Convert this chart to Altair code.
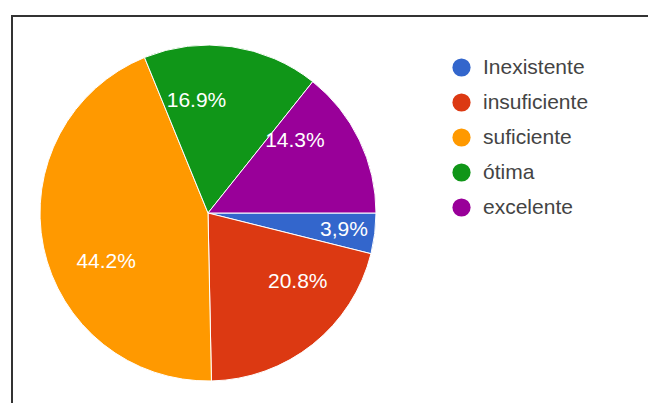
import math
import altair as alt
import pandas as pd

categories = ["Inexistente", "insuficiente", "suficiente", "ótima", "excelente"]
values = [3.9, 20.8, 44.2, 16.9, 14.3]
labels = ["3,9%", "20.8%", "44.2%", "16.9%", "14.3%"]
colors = ["#3366cc", "#dc3912", "#ff9900", "#109618", "#990099"]

df = pd.DataFrame({
    "cat": categories,
    "val": values,
    "label": labels,
    "ord": list(range(len(categories))),
})

CX, CY, R = 196, 197, 168
theta_scale = alt.Scale(range=[math.pi / 2, math.pi / 2 + 2 * math.pi])

base = alt.Chart(df).encode(
    theta=alt.Theta("val:Q", stack=True, scale=theta_scale),
    order=alt.Order("ord:Q"),
)

pie = base.mark_arc(radius=R, stroke="white", strokeWidth=1).encode(
    x=alt.value(CX),
    y=alt.value(CY),
    color=alt.Color(
        "cat:N",
        scale=alt.Scale(domain=categories, range=colors),
        sort=categories,
        legend=alt.Legend(
            title=None,
            orient="none",
            legendX=439,
            legendY=41,
            symbolType="circle",
            symbolSize=330,
            symbolStrokeWidth=0,
            labelFontSize=21,
            labelFont="Liberation Sans",
            labelColor="#444444",
            rowPadding=13,
            labelOffset=11,
        ),
    ),
)

text_big = base.mark_text(
    radius=113, fontSize=21, font="Liberation Sans", color="white"
).encode(
    x=alt.value(CX),
    y=alt.value(CY),
    text="label:N",
).transform_filter("datum.val >= 5")

text_small = base.mark_text(
    radius=137, fontSize=21, font="Liberation Sans", color="white"
).encode(
    x=alt.value(CX),
    y=alt.value(CY),
    text="label:N",
).transform_filter("datum.val < 5")

border = alt.Chart(df).mark_rect(
    filled=False, stroke="#333333", strokeWidth=2
).encode(
    x=alt.value(0), x2=alt.value(700), y=alt.value(0), y2=alt.value(450)
)

chart = alt.layer(border, pie, text_big, text_small).properties(
    width=636,
    height=387,
    padding={"left": 12, "top": 16, "right": 0, "bottom": 0},
    autosize=alt.AutoSizeParams(type="none"),
    background="white",
).configure_view(stroke=None)

chart.save("out.html", embed_options={"renderer": "svg", "actions": False})
